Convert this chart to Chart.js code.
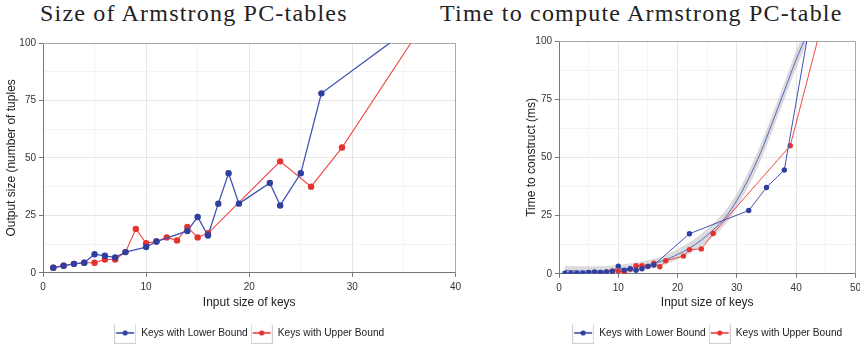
<!DOCTYPE html>
<html lang="en">
<head>
<meta charset="UTF-8" />
<title>Armstrong PC-tables</title>
<script src="https://cdn.jsdelivr.net/npm/chart.js"></script>
<style>
  body {
    margin: 0;
    background: #fff;
    width: 860px;
    height: 346px;
    overflow: hidden;
    position: relative;
  }
  .title {
    position: absolute;
    top: -1px;
    font-family: "Liberation Serif", serif;
    font-size: 24px;
    letter-spacing: 1.2px;
    line-height: 28px;
    color: #222;
    white-space: nowrap;
  }
  .box {
    position: absolute;
    top: 0;
    height: 346px;
  }
</style>
</head>
<body>
<div class="title" style="left:40px">Size of Armstrong PC-tables</div>
<div class="title" style="left:440px">Time to compute Armstrong PC-table</div>
<div class="box" style="left:0;width:465px"><canvas id="sizeChart"></canvas></div>
<div class="box" style="left:465px;width:400px"><canvas id="timeChart"></canvas></div>

<script>
// Size of Armstrong PC-tables (output tuples vs number of keys)
const sizeKeysLower = [1, 2, 3, 4, 5, 6, 7, 8, 10, 11, 14, 15, 16, 17, 18, 19, 22, 23, 25, 27, 35];
const sizeLower = [2.2, 3.1, 3.9, 4.4, 8.1, 7.4, 6.7, 9, 11.2, 13.6, 18.2, 24.3, 16.2, 30.1, 43.3, 30.1, 39.1, 29.3, 43.3, 78.1, 104.5];
const sizeKeysUpper = [1, 2, 3, 4, 5, 6, 7, 8, 9, 10, 11, 12, 13, 14, 15, 16, 23, 26, 29, 37];
const sizeUpper = [2.2, 3.1, 3.9, 4.4, 4.4, 5.8, 5.8, 9, 19.1, 12.9, 13.6, 15.4, 14.1, 19.9, 15.4, 17.2, 48.5, 37.5, 54.5, 109];

// Time to compute (ms)
const timeKeysLower = [1, 2, 3, 4, 5, 6, 7, 8, 9, 10, 11, 12, 13, 14, 15, 16, 22, 32, 35, 38, 42];
const timeLower = [0.3, 0.3, 0.3, 0.3, 0.6, 0.8, 0.6, 0.8, 1, 3.3, 1.5, 2.2, 1.5, 2.2, 3.2, 3.8, 17.2, 27.2, 37.1, 44.6, 103];
const timeKeysUpper = [7, 8, 9, 10, 11, 12, 13, 14, 15, 16, 17, 18, 21, 22, 24, 26, 39, 44];
const timeUpper = [0.5, 0.8, 1.2, 1.2, 0.8, 2, 3.5, 3.5, 3.2, 4.5, 3, 5.6, 7.6, 10.4, 10.7, 17.3, 55, 104];

// smoothed trend with its grey band
const trendKeys = [1, 2, 5, 8, 10, 12, 14, 16, 18, 20, 22, 24, 26, 28, 30, 32, 34, 36, 38, 40, 42];
const trendTime = [1.5, 1.3, 1.2, 1.4, 1.8, 2.4, 3.3, 4.5, 6, 8.3, 11, 14.5, 18.8, 24, 31.5, 41, 52, 65, 78.5, 92, 104];
const trendLow = [0, 0, 0, 0, 0, 0.4, 1.3, 2.5, 4, 6.1, 8.6, 11.9, 16, 21, 28.5, 37.8, 48.6, 61.5, 74.9, 88.2, 100];
const trendHigh = [3.5, 3.3, 3.2, 3.4, 3.8, 4.4, 5.3, 6.5, 8, 10.5, 13.4, 17.1, 21.6, 27, 34.5, 44.2, 55.4, 68.5, 82.1, 95.8, 108];

const seriesNames = ['Keys with Lower Bound', 'Keys with Upper Bound'];

const BLUE = '#2f3f9f';
const BLUE_LINE = '#4152b4';
const RED = '#e5322d';
const RED_LINE = '#f04a45';
const FONT = '"Liberation Sans", Arial, sans-serif';

const pts = (xs, ys) => xs.map((x, i) => ({ x: x, y: ys[i] }));

// legend icon: little framed box with a line and a dot
function legendIcon(color) {
  const c = document.createElement('canvas');
  c.width = 22; c.height = 22;
  const g = c.getContext('2d');
  g.fillStyle = '#fff';
  g.fillRect(0, 0, 22, 22);
  g.strokeStyle = '#cfcfcf';
  g.strokeRect(0.5, 0.5, 21, 21);
  g.strokeStyle = color;
  g.lineWidth = 1.5;
  g.beginPath(); g.moveTo(2, 11); g.lineTo(20, 11); g.stroke();
  g.fillStyle = color;
  g.beginPath(); g.arc(11, 11, 2.6, 0, Math.PI * 2); g.fill();
  return c;
}
const icons = [legendIcon(BLUE), legendIcon(RED)];

const framePlugin = {
  id: 'frame',
  beforeDraw(chart) {
    // centre legend under the plot area
    const a = chart.chartArea;
    chart.legend.left = a.left;
    chart.legend.right = a.right;
    chart.legend.top += 2;
  },
  beforeDatasetsDraw(chart) {
    const { ctx, chartArea: a } = chart;
    ctx.save();
    ctx.strokeStyle = '#a8a8a8';
    ctx.lineWidth = 1;
    ctx.beginPath();
    ctx.moveTo(a.left, Math.round(a.top) + 0.5);
    ctx.lineTo(Math.round(a.right) + 0.5, Math.round(a.top) + 0.5);
    ctx.lineTo(Math.round(a.right) + 0.5, a.bottom);
    ctx.stroke();
    ctx.restore();
  }
};

function buildOptions(xMax, yTitle, pad, yWidth, yTitleOffset, xHeight) {
  const major = (v, step) => Math.abs(v % step) < 1e-6;
  return {
    responsive: true,
    maintainAspectRatio: false,
    animation: false,
    layout: { padding: pad },
    plugins: {
      tooltip: { enabled: false },
      legend: {
        position: 'bottom',
        labels: {
          usePointStyle: true,
          pointStyleWidth: 22,
          padding: 3,
          color: '#222',
          font: { family: FONT, size: 10.2 },
          generateLabels(chart) {
            return Chart.defaults.plugins.legend.labels.generateLabels(chart)
              .filter(l => l.datasetIndex < 2)
              .map(l => Object.assign(l, { pointStyle: icons[l.datasetIndex] }));
          }
        }
      }
    },
    scales: {
      x: {
        type: 'linear',
        min: 0,
        max: xMax,
        afterFit(s) { s.height = xHeight; },
        ticks: {
          stepSize: 5,
          autoSkip: false,
          maxRotation: 0,
          padding: 4,
          color: '#333',
          font: { family: FONT, size: 10 },
          callback: v => major(v, 10) ? v : ''
        },
        grid: {
          color: c => major(c.tick.value, 10) ? '#e6e6e6' : '#f3f3f3',
          tickColor: c => major(c.tick.value, 10) ? '#777' : 'rgba(0,0,0,0)',
          tickLength: 4
        },
        border: { color: '#777' },
        title: {
          display: true,
          text: 'Input size of keys',
          color: '#222',
          font: { family: FONT, size: 12 },
          padding: { top: 2, bottom: 13 }
        }
      },
      y: {
        min: 0,
        max: 100,
        afterFit(s) { s.width = yWidth; },
        ticks: {
          stepSize: 12.5,
          autoSkip: false,
          padding: 3,
          color: '#333',
          font: { family: FONT, size: 10 },
          callback: v => major(v, 25) ? v : ''
        },
        grid: {
          color: c => major(c.tick.value, 25) ? '#e6e6e6' : '#f3f3f3',
          tickColor: c => major(c.tick.value, 25) ? '#777' : 'rgba(0,0,0,0)',
          tickLength: 4
        },
        border: { color: '#777' },
        title: {
          display: true,
          text: yTitle,
          color: '#222',
          font: { family: FONT, size: 12 },
          padding: { top: yTitleOffset, bottom: 4 }
        }
      }
    }
  };
}

// Chart: size of the tables
new Chart(document.getElementById('sizeChart'), {
  type: 'line',
  data: {
    datasets: [
      {
        label: seriesNames[0],
        data: pts(sizeKeysLower, sizeLower),
        borderColor: BLUE_LINE,
        backgroundColor: BLUE,
        borderWidth: 1.3,
        pointRadius: 3.2,
        pointBorderWidth: 0,
        tension: 0
      },
      {
        label: seriesNames[1],
        data: pts(sizeKeysUpper, sizeUpper),
        borderColor: RED_LINE,
        backgroundColor: RED,
        borderWidth: 1.1,
        pointRadius: 3.2,
        pointBorderWidth: 0,
        tension: 0
      }
    ]
  },
  options: buildOptions(40, 'Output size (number of tuples', { top: 43, right: 7, left: 0, bottom: 0 }, 43, 4, 50),
  plugins: [framePlugin]
});

// Chart: construction time
new Chart(document.getElementById('timeChart'), {
  type: 'line',
  data: {
    datasets: [
      {
        label: seriesNames[0],
        data: pts(timeKeysLower, timeLower),
        borderColor: BLUE_LINE,
        backgroundColor: BLUE,
        borderWidth: 1,
        pointRadius: 2.7,
        pointBorderWidth: 0,
        tension: 0
      },
      {
        label: seriesNames[1],
        data: pts(timeKeysUpper, timeUpper),
        borderColor: RED_LINE,
        backgroundColor: RED,
        borderWidth: 1,
        pointRadius: 2.7,
        pointBorderWidth: 0,
        tension: 0
      },
      {
        label: 'trend',
        data: pts(trendKeys, trendTime),
        borderColor: '#5566c4',
        borderWidth: 1,
        pointRadius: 0,
        cubicInterpolationMode: 'monotone'
      },
      {
        label: 'band high',
        data: pts(trendKeys, trendHigh),
        borderWidth: 0,
        pointRadius: 0,
        backgroundColor: 'rgba(190,190,190,0.55)',
        fill: '+1',
        cubicInterpolationMode: 'monotone'
      },
      {
        label: 'band low',
        data: pts(trendKeys, trendLow),
        borderWidth: 0,
        pointRadius: 0,
        cubicInterpolationMode: 'monotone'
      }
    ]
  },
  options: buildOptions(50, 'Time to construct (ms)', { top: 41, right: 0, left: 0, bottom: 0 }, 94, 59, 49),
  plugins: [framePlugin]
});
</script>
</body>
</html>
